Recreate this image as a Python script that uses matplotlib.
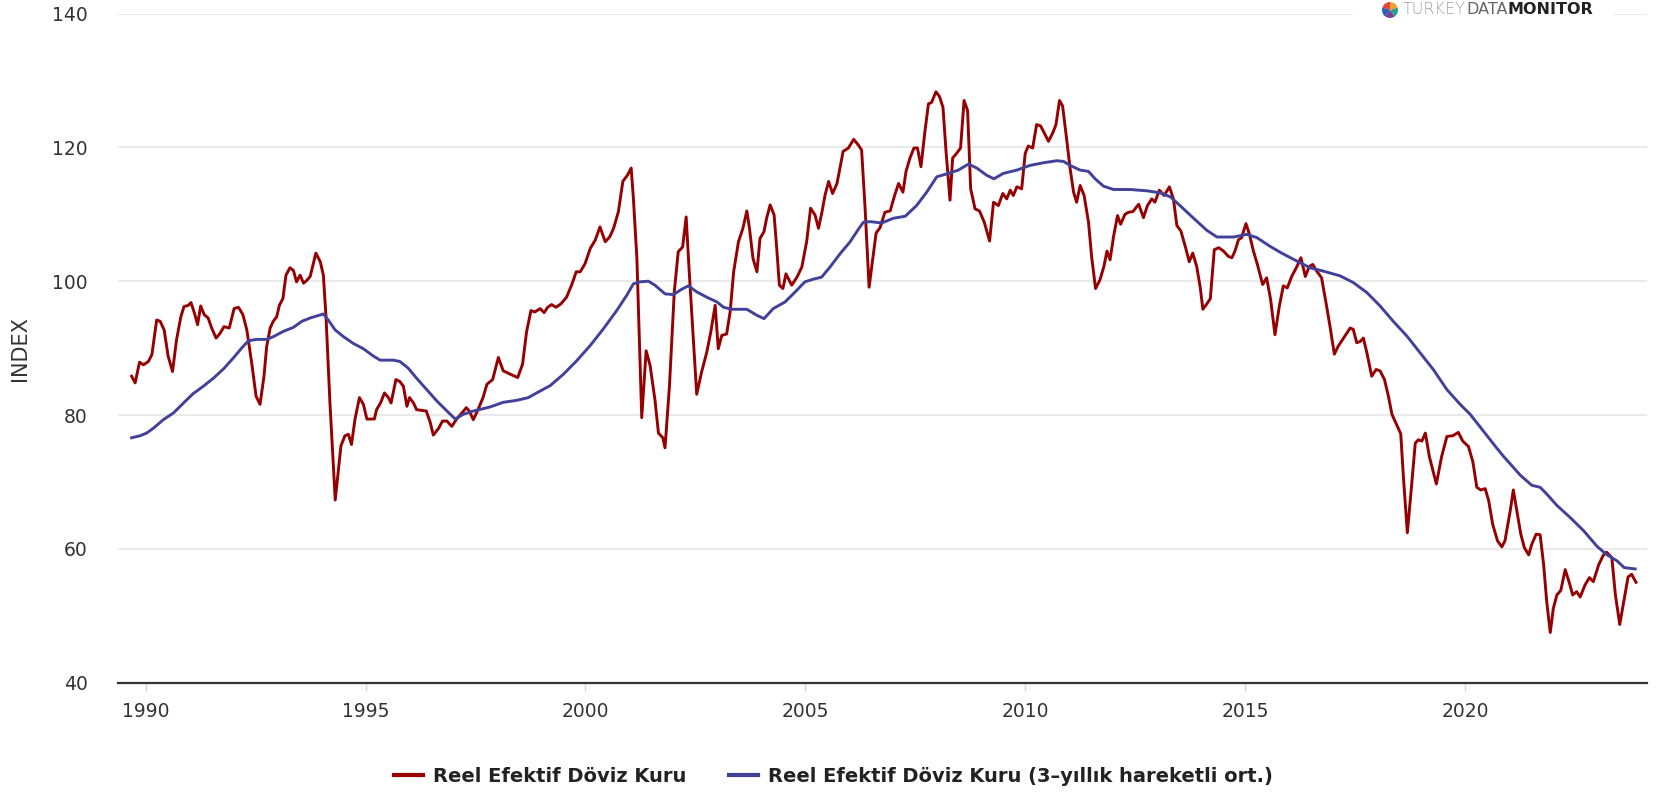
import numpy as np
import matplotlib
matplotlib.use('Agg')
import matplotlib.pyplot as plt
from matplotlib import font_manager
from matplotlib.patches import Rectangle
from matplotlib.lines import Line2D

# ---------------- data ----------------
red_years = [
    1989.68, 1989.76, 1989.86, 1989.95, 1990.06, 1990.14, 1990.25, 1990.33, 1990.42, 1990.51,
    1990.61, 1990.70, 1990.80, 1990.87, 1990.97, 1991.03, 1991.11, 1991.18, 1991.25, 1991.33,
    1991.42, 1991.50, 1991.60, 1991.69, 1991.78, 1991.90, 1992.01, 1992.11, 1992.21, 1992.30,
    1992.41, 1992.51, 1992.60, 1992.69, 1992.75, 1992.83, 1992.90, 1992.98, 1993.04, 1993.12,
    1993.19, 1993.28, 1993.36, 1993.43, 1993.51, 1993.59, 1993.66, 1993.74, 1993.87, 1993.97,
    1994.04, 1994.10, 1994.19, 1994.31, 1994.44, 1994.53, 1994.61, 1994.68, 1994.76, 1994.86,
    1994.95, 1995.03, 1995.20, 1995.25, 1995.34, 1995.43, 1995.52, 1995.58, 1995.69, 1995.78,
    1995.86, 1995.94, 1996.00, 1996.09, 1996.16, 1996.38, 1996.47, 1996.54, 1996.66, 1996.75,
    1996.85, 1996.96, 1997.07, 1997.19, 1997.29, 1997.36, 1997.45, 1997.55, 1997.67, 1997.76,
    1997.89, 1998.02, 1998.13, 1998.29, 1998.46, 1998.57, 1998.66, 1998.76, 1998.85, 1998.97,
    1999.06, 1999.14, 1999.23, 1999.33, 1999.44, 1999.57, 1999.69, 1999.79, 1999.88, 1999.99,
    2000.11, 2000.22, 2000.33, 2000.45, 2000.55, 2000.64, 2000.75, 2000.85, 2000.96, 2001.04,
    2001.09, 2001.17, 2001.28, 2001.38, 2001.47, 2001.58, 2001.66, 2001.76, 2001.81, 2001.91,
    2002.02, 2002.11, 2002.21, 2002.29, 2002.36, 2002.44, 2002.53, 2002.64, 2002.76, 2002.85,
    2002.95, 2003.02, 2003.10, 2003.21, 2003.29, 2003.37, 2003.48, 2003.58, 2003.67, 2003.73,
    2003.81, 2003.90, 2003.97, 2004.06, 2004.12, 2004.20, 2004.29, 2004.35, 2004.41, 2004.49,
    2004.56, 2004.69, 2004.81, 2004.92, 2005.03, 2005.12, 2005.22, 2005.30, 2005.38, 2005.45,
    2005.53, 2005.62, 2005.72, 2005.86, 2005.98, 2006.10, 2006.21, 2006.28, 2006.36, 2006.45,
    2006.53, 2006.61, 2006.70, 2006.81, 2006.93, 2007.03, 2007.12, 2007.22, 2007.29, 2007.38,
    2007.47, 2007.55, 2007.63, 2007.72, 2007.80, 2007.87, 2007.97, 2008.05, 2008.13, 2008.20,
    2008.29, 2008.35, 2008.44, 2008.53, 2008.61, 2008.69, 2008.76, 2008.86, 2008.96, 2009.07,
    2009.19, 2009.28, 2009.39, 2009.49, 2009.58, 2009.66, 2009.73, 2009.81, 2009.92, 2010.00,
    2010.07, 2010.17, 2010.26, 2010.35, 2010.43, 2010.53, 2010.63, 2010.70, 2010.78, 2010.85,
    2010.93, 2011.02, 2011.10, 2011.17, 2011.25, 2011.34, 2011.44, 2011.51, 2011.60, 2011.70,
    2011.79, 2011.86, 2011.93, 2012.01, 2012.10, 2012.17, 2012.27, 2012.35, 2012.45, 2012.58,
    2012.69, 2012.78, 2012.88, 2012.95, 2013.05, 2013.16, 2013.28, 2013.37, 2013.45, 2013.54,
    2013.64, 2013.73, 2013.81, 2013.90, 2013.98, 2014.04, 2014.13, 2014.21, 2014.30, 2014.40,
    2014.51, 2014.62, 2014.70, 2014.77, 2014.85, 2014.92, 2015.02, 2015.10, 2015.19, 2015.28,
    2015.40, 2015.49, 2015.58, 2015.68, 2015.78, 2015.87, 2015.96, 2016.06, 2016.18, 2016.27,
    2016.37, 2016.46, 2016.54, 2016.63, 2016.74, 2016.84, 2016.93, 2017.03, 2017.12, 2017.24,
    2017.39, 2017.46, 2017.54, 2017.62, 2017.69, 2017.77, 2017.88, 2017.98, 2018.07, 2018.17,
    2018.26, 2018.34, 2018.45, 2018.54, 2018.60, 2018.69, 2018.77, 2018.87, 2018.94, 2019.02,
    2019.10, 2019.19, 2019.35, 2019.47, 2019.59, 2019.72, 2019.85, 2019.95, 2020.08, 2020.18,
    2020.27, 2020.36, 2020.46, 2020.54, 2020.63, 2020.74, 2020.84, 2020.91, 2021.03, 2021.10,
    2021.18, 2021.27, 2021.35, 2021.45, 2021.52, 2021.62, 2021.71, 2021.79, 2021.86, 2021.94,
    2022.01, 2022.09, 2022.18, 2022.28, 2022.38, 2022.45, 2022.54, 2022.62, 2022.73, 2022.83,
    2022.92, 2023.04, 2023.15, 2023.22, 2023.34, 2023.42, 2023.52, 2023.71, 2023.79, 2023.89,
]
red_values = [
    85.8, 84.8, 87.9, 87.5, 88.0, 89.0, 94.2, 94.0, 92.7, 88.8,
    86.5, 91.2, 94.7, 96.2, 96.4, 96.8, 95.2, 93.5, 96.3, 95.0,
    94.5, 93.0, 91.5, 92.2, 93.2, 93.0, 95.9, 96.1, 95.0, 92.7,
    87.8, 82.8, 81.6, 85.8, 90.2, 93.0, 94.0, 94.7, 96.4, 97.4,
    100.9, 102.0, 101.6, 99.9, 100.9, 99.7, 100.1, 100.7, 104.2, 102.9,
    100.9, 94.7, 81.8, 67.3, 75.4, 76.9, 77.1, 75.6, 79.4, 82.6,
    81.6, 79.4, 79.4, 80.8, 81.8, 83.3, 82.6, 81.8, 85.3, 85.0,
    84.3, 81.3, 82.6, 81.8, 80.8, 80.6, 78.9, 77.0, 78.0, 79.1,
    79.1, 78.3, 79.4, 80.3, 81.1, 80.6, 79.3, 80.7, 82.6, 84.6,
    85.3, 88.6, 86.6, 86.1, 85.6, 87.6, 92.4, 95.6, 95.4, 95.9,
    95.3, 96.1, 96.5, 96.1, 96.6, 97.6, 99.5, 101.4, 101.4, 102.6,
    104.9, 106.1, 108.1, 105.9, 106.6, 107.9, 110.4, 114.9, 115.9, 116.9,
    112.4, 103.4, 79.6, 89.6, 87.4, 82.3, 77.3, 76.6, 75.1, 84.3,
    98.4, 104.4, 105.1, 109.6, 101.4, 92.9, 83.1, 86.4, 89.4, 92.4,
    96.4, 89.9, 91.9, 92.1, 95.4, 101.4, 105.9, 107.9, 110.5, 107.9,
    103.4, 101.4, 106.4, 107.4, 109.4, 111.4, 109.9, 104.9, 99.4, 98.9,
    101.1, 99.4, 100.6, 102.1, 105.9, 110.9, 109.9, 107.9, 110.4, 112.9,
    114.9, 113.1, 114.6, 119.4, 119.9, 121.2, 120.3, 119.6, 110.8, 99.1,
    103.2, 107.2, 108.0, 110.3, 110.5, 112.8, 114.6, 113.3, 116.4, 118.4,
    119.9, 119.9, 117.1, 122.4, 126.5, 126.7, 128.3, 127.6, 126.0, 119.4,
    112.1, 118.4, 119.1, 119.9, 127.0, 125.5, 113.8, 110.8, 110.5, 108.8,
    106.0, 111.8, 111.3, 113.1, 112.3, 113.6, 112.8, 114.1, 113.8, 119.1,
    120.2, 119.9, 123.4, 123.2, 122.2, 120.9, 122.2, 123.4, 127.0, 126.2,
    121.9, 116.9, 113.3, 111.8, 114.3, 112.8, 108.8, 103.7, 98.9, 100.2,
    102.2, 104.5, 103.2, 106.7, 109.8, 108.5, 110.0, 110.3, 110.4, 111.5,
    109.5, 111.3, 112.3, 111.8, 113.6, 112.8, 114.1, 112.3, 108.3, 107.5,
    105.2, 102.9, 104.2, 102.2, 99.1, 95.8, 96.6, 97.4, 104.7, 105.0,
    104.5, 103.7, 103.5, 104.5, 106.2, 106.5, 108.6, 107.0, 104.5, 102.5,
    99.5, 100.5, 97.3, 92.0, 96.3, 99.3, 99.0, 100.7, 102.2, 103.5,
    100.7, 102.2, 102.5, 101.5, 100.5, 96.8, 93.3, 89.1, 90.3, 91.5,
    93.0, 92.8, 90.8, 91.0, 91.5, 89.3, 85.8, 86.8, 86.6, 85.3,
    82.8, 80.1, 78.5, 77.2, 70.8, 62.4, 68.2, 75.8, 76.3, 76.1,
    77.3, 73.8, 69.7, 73.8, 76.8, 76.9, 77.4, 76.1, 75.3, 73.0,
    69.2, 68.8, 69.0, 67.2, 63.7, 61.2, 60.3, 61.2, 65.7, 68.8,
    65.7, 62.2, 60.2, 59.1, 60.7, 62.2, 62.1, 57.6, 52.1, 47.5,
    51.1, 53.1, 53.8, 56.9, 54.8, 53.1, 53.6, 52.8, 54.6, 55.7,
    55.1, 57.6, 59.1, 59.5, 58.7, 53.2, 48.7, 55.8, 56.2, 55.0,
]

blue_years = [
    1989.68, 1989.87, 1990.02, 1990.17, 1990.40, 1990.63, 1990.86, 1991.08, 1991.31, 1991.54,
    1991.77, 1991.99, 1992.22, 1992.34, 1992.52, 1992.75, 1992.90, 1993.13, 1993.36, 1993.55,
    1993.74, 1993.89, 1994.04, 1994.15, 1994.31, 1994.50, 1994.72, 1994.95, 1995.18, 1995.33,
    1995.63, 1995.78, 1995.97, 1996.16, 1996.39, 1996.62, 1996.85, 1997.04, 1997.22, 1997.45,
    1997.64, 1997.83, 1998.13, 1998.44, 1998.70, 1998.89, 1999.20, 1999.50, 1999.80, 2000.11,
    2000.41, 2000.71, 2000.94, 2001.09, 2001.24, 2001.43, 2001.58, 2001.81, 2002.00, 2002.19,
    2002.34, 2002.53, 2002.76, 2002.99, 2003.14, 2003.33, 2003.67, 2003.90, 2004.06, 2004.27,
    2004.54, 2004.77, 2004.99, 2005.18, 2005.37, 2005.56, 2005.79, 2006.02, 2006.21, 2006.32,
    2006.47, 2006.74, 2007.00, 2007.27, 2007.53, 2007.76, 2007.99, 2008.25, 2008.48, 2008.71,
    2008.90, 2009.13, 2009.29, 2009.50, 2009.81, 2010.11, 2010.42, 2010.72, 2010.87, 2011.02,
    2011.25, 2011.44, 2011.59, 2011.78, 2012.01, 2012.39, 2012.77, 2013.07, 2013.30, 2013.52,
    2013.83, 2014.13, 2014.36, 2014.62, 2014.74, 2015.04, 2015.27, 2015.57, 2015.83, 2016.18,
    2016.48, 2016.78, 2017.16, 2017.46, 2017.77, 2018.07, 2018.37, 2018.68, 2018.98, 2019.28,
    2019.59, 2019.89, 2020.12, 2020.42, 2020.73, 2020.88, 2021.26, 2021.52, 2021.71, 2021.86,
    2022.09, 2022.39, 2022.70, 2023.00, 2023.21, 2023.46, 2023.62, 2023.87,
]
blue_values = [
    76.6, 76.9, 77.3, 78.0, 79.3, 80.3, 81.8, 83.2, 84.3, 85.5,
    86.9, 88.5, 90.3, 91.1, 91.3, 91.3, 91.7, 92.5, 93.1, 94.0,
    94.5, 94.8, 95.1, 94.2, 92.7, 91.7, 90.7, 89.9, 88.8, 88.2,
    88.2, 88.0, 87.0, 85.5, 83.8, 82.1, 80.6, 79.4, 80.1, 80.6,
    80.9, 81.2, 81.9, 82.2, 82.6, 83.3, 84.4, 86.1, 88.1, 90.4,
    92.9, 95.6, 97.9, 99.6, 99.9, 100.0, 99.4, 98.1, 98.0, 98.8,
    99.3, 98.4, 97.6, 96.9, 96.1, 95.8, 95.8, 94.9, 94.4, 95.9,
    96.9, 98.4, 99.9, 100.3, 100.6, 102.1, 104.1, 105.9, 107.8, 108.8,
    108.9, 108.7, 109.4, 109.7, 111.3, 113.3, 115.6, 116.1, 116.6, 117.5,
    116.9, 115.8, 115.3, 116.1, 116.6, 117.3, 117.7, 118.0, 117.9, 117.3,
    116.6, 116.4, 115.3, 114.2, 113.7, 113.7, 113.5, 113.2, 112.6, 111.3,
    109.4, 107.6, 106.6, 106.6, 106.6, 107.0, 106.5, 105.2, 104.2, 103.0,
    102.0, 101.5, 100.8, 99.8, 98.3, 96.3, 94.0, 91.8, 89.3, 86.8,
    83.8, 81.6, 80.1, 77.6, 75.0, 73.8, 71.0, 69.5, 69.2, 68.2,
    66.5, 64.7, 62.7, 60.4, 59.2, 58.2, 57.2, 57.0,
]

x_ticks = [1990, 1995, 2000, 2005, 2010, 2015, 2020]
y_ticks = [40, 60, 80, 100, 120, 140]
series_labels = ['Reel Efektif Döviz Kuru',
                 'Reel Efektif Döviz Kuru (3–yıllık hareketli ort.)']
y_label = 'INDEX'
logo_parts = ['TURKEY', 'DATA', 'MONITOR']
logo_shares = [1.0, 1.0, 1.0, 1.0, 1.0]

# ---------------- styling ----------------
RED = '#960000'
BLUE = '#41419a'
installed = {f.name for f in font_manager.fontManager.ttflist}
narrow = 'Liberation Sans Narrow' if 'Liberation Sans Narrow' in installed else 'DejaVu Sans'

W, H = 1663, 794
fig = plt.figure(figsize=(W / 100, H / 100), dpi=100)
L, R, T, B = 118, 1647, 13.5, 682.7
ax = fig.add_axes([L / W, 1 - B / H, (R - L) / W, (B - T) / H])

ax.plot(red_years, red_values, color=RED, lw=2.1, solid_joinstyle='round', zorder=3)
ax.plot(blue_years, blue_values, color=BLUE, lw=2.1, solid_joinstyle='round', zorder=4)

ax.set_xlim(1989.37, 2024.14)
ax.set_ylim(40, 140)
ax.set_xticks(x_ticks)
ax.set_xticklabels([str(t) for t in x_ticks])
ax.set_yticks(y_ticks)
ax.set_yticklabels([str(t) for t in y_ticks])
ax.grid(axis='y', color='#e6e6e6', lw=1.2)
ax.set_axisbelow(True)
for s in ['left', 'right', 'top']:
    ax.spines[s].set_visible(False)
ax.spines['bottom'].set_color('#333333')
ax.spines['bottom'].set_linewidth(1.6)
ax.tick_params(axis='y', length=0, pad=22, labelsize=13.5, labelcolor='#333333')
ax.tick_params(axis='x', length=6, width=1, color='#ccd6eb', pad=8,
               labelsize=13.5, labelcolor='#333333')
ax.set_ylabel(y_label, fontsize=15, color='#333333')
ax.yaxis.set_label_coords((30 - L) / (R - L), 0.5)

# ---------------- legend ----------------
handles = [Line2D([], [], color=RED, lw=3), Line2D([], [], color=BLUE, lw=3)]
if narrow == 'DejaVu Sans':
    lprop = dict(family='DejaVu Sans', weight='bold', size=14)
else:
    lprop = dict(family=narrow, weight='bold', size=17)
fig.legend(handles, series_labels, loc='center', bbox_to_anchor=(833.5 / W, 1 - 776 / H),
           ncol=2, frameon=False, handlelength=1.5, handletextpad=0.5,
           columnspacing=2.2, prop=lprop, labelcolor='#222222')

# ---------------- logo ----------------
fig.add_artist(Rectangle((1353 / W, 1 - 24 / H), 260 / W, 24 / H,
                         transform=fig.transFigure, facecolor='white',
                         edgecolor='none', zorder=5))
pax = fig.add_axes([(1390 - 10) / W, 1 - 20 / H, 20 / W, 20 / H], zorder=6)
pax.pie(logo_shares, colors=['#e0463a', '#2b5fb4', '#7b3f98', '#2a9d8f', '#f0a030'],
        startangle=90, wedgeprops=dict(linewidth=0))
pax.set_aspect('equal')
pax.axis('off')

logo_size = 14 if narrow != 'DejaVu Sans' else 11.5
colors = ['#a0a0a0', '#666666', '#222222']
weights = ['light', 'normal', 'bold']
renderer = fig.canvas.get_renderer()
xpos = 1403
for part, c, wgt in zip(logo_parts, colors, weights):
    t = fig.text(xpos / W, 1 - 9.5 / H, part, fontsize=logo_size, family=narrow,
                 color=c, weight=wgt, ha='left', va='center', zorder=7)
    bb = t.get_window_extent(renderer=renderer)
    xpos += bb.width

fig.savefig('out.png', dpi=100, facecolor='white')
